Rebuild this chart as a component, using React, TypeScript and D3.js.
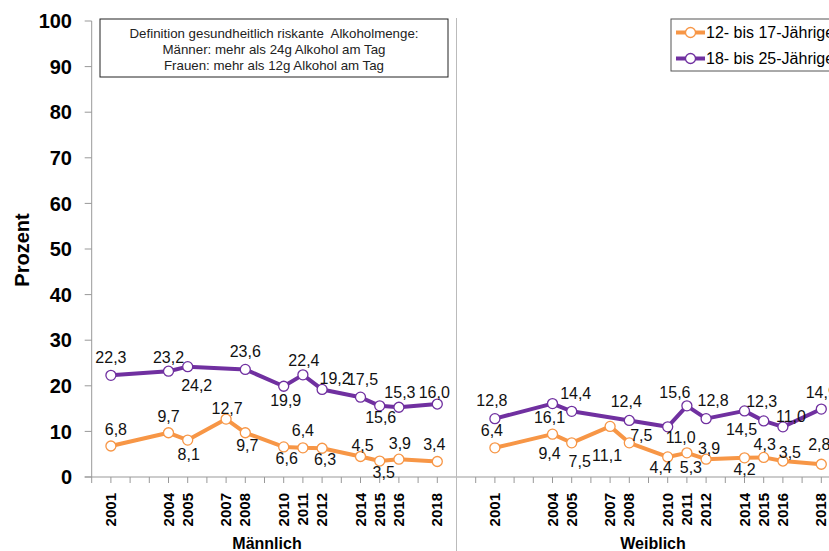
import React, { useRef, useEffect } from "react";
import * as d3 from "d3";

// years shown on the axis (one slot per year, 2000..2019 per panel)
const years = [2001, 2004, 2005, 2007, 2008, 2010, 2011, 2012, 2014, 2015, 2016, 2018];
const yTicks = [0, 10, 20, 30, 40, 50, 60, 70, 80, 90, 100];

const panels = ["Männlich", "Weiblich"];
const seriesNames = ["12- bis 17-Jährige", "18- bis 25-Jährige"];

// null = no survey value for that year
const maleYoung = [6.8, 9.7, 8.1, 12.7, 9.7, 6.6, 6.4, 6.3, 4.5, 3.5, 3.9, 3.4];
const maleAdult = [22.3, 23.2, 24.2, null, 23.6, 19.9, 22.4, 19.2, 17.5, 15.6, 15.3, 16.0];
const femaleYoung = [6.4, 9.4, 7.5, 11.1, 7.5, 4.4, 5.3, 3.9, 4.2, 4.3, 3.5, 2.8];
const femaleAdult = [12.8, 16.1, 14.4, null, 12.4, 11.0, 15.6, 12.8, 14.5, 12.3, 11.0, 14.9];

const noteLines = [
  "Definition gesundheitlich riskante  Alkoholmenge:",
  "Männer: mehr als 24g Alkohol am Tag",
  "Frauen: mehr als 12g Alkohol am Tag",
];

// label placement relative to the marker [dx, dy]
const offMaleYoung = [[5, -17], [0, -17], [1, 14], [1, -11], [2, 12], [3, 11], [0, -18], [3, 11], [2, -11], [4, 11], [1, -16], [-3, -17]];
const offMaleAdult = [[0, -18], [0, -14], [9, 19], null, [0, -18], [2, 14], [1, -15], [13, -11], [2, -18], [1, 11], [1, -15], [-3, -12]];
const offFemaleYoung = [[-3, -18], [-3, 19], [8, 18], [-3, 29], [12, -8], [-7, 10], [4, 14], [3, -11], [0, 11], [1, -13], [7, -9], [-2, -20]];
const offFemaleAdult = [[-3, -18], [-3, 14], [4, -18], null, [-3, -19], [13, 10], [-12, -14], [7, -18], [-3, 18], [-2, -20], [8, -11], [0, -17]];

const colors = ["#F79646", "#7030A0"];

const App = () => {
  const svgRef = useRef(null);

  useEffect(() => {
    const svg = d3.select(svgRef.current);
    svg.selectAll("*").remove();

    const width = 829;
    const height = 551;
    const font = "Arial, 'Liberation Sans', sans-serif";

    // slot 0..19 = 2000..2019 male, slot 20.. = female
    const x = d3.scaleLinear().domain([0, 19]).range([91.7, 456.5]);
    const y = d3.scaleLinear().domain([0, 100]).range([477, 21]);
    const slot = (year, panel) => (year - 2000) + panel * 20;

    svg.attr("width", width).attr("height", height).style("font-family", font);

    // y axis
    svg.append("line")
      .attr("x1", x(0)).attr("x2", x(0))
      .attr("y1", y(100)).attr("y2", y(0))
      .attr("stroke", "#999");
    yTicks.forEach(t => {
      svg.append("line")
        .attr("x1", x(0) - 7).attr("x2", x(0))
        .attr("y1", y(t)).attr("y2", y(t))
        .attr("stroke", "#999");
      svg.append("text")
        .attr("x", 72).attr("y", y(t))
        .attr("dy", "0.36em")
        .attr("text-anchor", "end")
        .style("font-size", "20px")
        .style("font-weight", "bold")
        .text(t);
    });

    svg.append("text")
      .attr("transform", `translate(29,250) rotate(-90)`)
      .attr("text-anchor", "middle")
      .style("font-size", "20px")
      .style("font-weight", "bold")
      .text("Prozent");

    // x axis
    svg.append("line")
      .attr("x1", x(0) - 7).attr("x2", width)
      .attr("y1", y(0)).attr("y2", y(0))
      .attr("stroke", "#999");
    d3.range(0, 42).forEach(s => {
      svg.append("line")
        .attr("x1", x(s)).attr("x2", x(s))
        .attr("y1", y(0)).attr("y2", y(0) + 6)
        .attr("stroke", "#999");
    });

    // panel divider
    svg.append("line")
      .attr("x1", 456.5).attr("x2", 456.5)
      .attr("y1", 18).attr("y2", height)
      .attr("stroke", "#bbb");

    panels.forEach((p, pi) => {
      years.forEach(yr => {
        svg.append("text")
          .attr("transform", `translate(${x(slot(yr, pi)) + 5},${y(0) + 16}) rotate(-90)`)
          .attr("text-anchor", "end")
          .style("font-size", "15px")
          .style("font-weight", "bold")
          .text(yr);
      });
      svg.append("text")
        .attr("x", pi === 0 ? 267 : 653)
        .attr("y", 549)
        .attr("text-anchor", "middle")
        .style("font-size", "16px")
        .style("font-weight", "bold")
        .text(p);
    });

    const series = [
      { panel: 0, color: colors[0], values: maleYoung, offs: offMaleYoung },
      { panel: 0, color: colors[1], values: maleAdult, offs: offMaleAdult },
      { panel: 1, color: colors[0], values: femaleYoung, offs: offFemaleYoung },
      { panel: 1, color: colors[1], values: femaleAdult, offs: offFemaleAdult },
    ];

    const line = d3.line()
      .x(d => x(slot(d.year, d.panel)))
      .y(d => y(d.value));

    series.forEach(s => {
      const pts = years
        .map((yr, i) => ({ year: yr, value: s.values[i], panel: s.panel, off: s.offs[i] }))
        .filter(d => d.value != null);

      svg.append("path")
        .datum(pts)
        .attr("d", line)
        .attr("fill", "none")
        .attr("stroke", s.color)
        .attr("stroke-width", 4)
        .attr("stroke-linejoin", "round");

      svg.selectAll(null)
        .data(pts)
        .enter()
        .append("circle")
        .attr("cx", d => x(slot(d.year, d.panel)))
        .attr("cy", d => y(d.value))
        .attr("r", 5)
        .attr("fill", "#fff")
        .attr("stroke", s.color)
        .attr("stroke-width", 1.3);

      svg.selectAll(null)
        .data(pts)
        .enter()
        .append("text")
        .attr("x", d => x(slot(d.year, d.panel)) + d.off[0])
        .attr("y", d => y(d.value) + d.off[1])
        .attr("dy", "0.36em")
        .attr("text-anchor", "middle")
        .style("font-size", "16px")
        .attr("fill", "#111")
        .text(d => d.value.toFixed(1).replace(".", ","));
    });

    // definition note
    svg.append("rect")
      .attr("x", 100).attr("y", 19)
      .attr("width", 348).attr("height", 58)
      .attr("fill", "#fff")
      .attr("stroke", "#222");
    noteLines.forEach((t, i) => {
      svg.append("text")
        .attr("x", 274).attr("y", 38 + i * 16)
        .attr("text-anchor", "middle")
        .style("font-size", "13.3px")
        .style("white-space", "pre")
        .attr("fill", "#222")
        .text(t);
    });

    // legend
    const legend = svg.append("g").attr("transform", "translate(671,19)");
    legend.append("rect")
      .attr("width", 200).attr("height", 52)
      .attr("fill", "#fff")
      .attr("stroke", "#555");
    seriesNames.forEach((n, i) => {
      const ly = 13.5 + i * 26;
      legend.append("line")
        .attr("x1", 5).attr("x2", 34)
        .attr("y1", ly).attr("y2", ly)
        .attr("stroke", colors[i])
        .attr("stroke-width", 4);
      legend.append("circle")
        .attr("cx", 19.5).attr("cy", ly).attr("r", 5)
        .attr("fill", "#fff")
        .attr("stroke", colors[i])
        .attr("stroke-width", 1.3);
      legend.append("text")
        .attr("x", 35).attr("y", ly)
        .attr("dy", "0.36em")
        .style("font-size", "16px")
        .text(n);
    });
  }, []);

  return (
    <svg ref={svgRef} style={{ position: "absolute", left: 0, top: 0, display: "block" }}></svg>
  );
};

export default App;
